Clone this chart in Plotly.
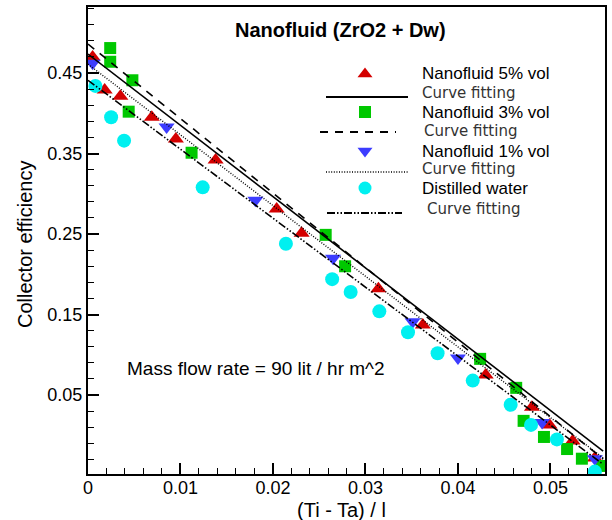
import plotly.graph_objects as go

# ---- data ----
red_x = [0.0005, 0.0018, 0.0035, 0.0069, 0.0095, 0.0138, 0.0204, 0.0231, 0.0314, 0.0362, 0.0430, 0.0480, 0.0499, 0.0524, 0.0548]
red_y = [0.470, 0.429, 0.421, 0.395, 0.368, 0.342, 0.281, 0.251, 0.182, 0.137, 0.075, 0.035, 0.013, -0.007, -0.028]

green_x = [0.0024, 0.0024, 0.0048, 0.0044, 0.0112, 0.0257, 0.0278, 0.0424, 0.0463, 0.0471, 0.0493, 0.0518, 0.0534, 0.0555]
green_y = [0.481, 0.464, 0.441, 0.402, 0.351, 0.249, 0.210, 0.095, 0.059, 0.018, -0.002, -0.017, -0.029, -0.038]

blue_x = [0.0005, 0.0085, 0.0181, 0.0265, 0.0351, 0.0400, 0.0491, 0.0548]
blue_y = [0.462, 0.383, 0.292, 0.220, 0.141, 0.096, 0.016, -0.029]

cyan_x = [0.0008, 0.0025, 0.0039, 0.0124, 0.0214, 0.0264, 0.0284, 0.0315, 0.0346, 0.0378, 0.0416, 0.0457, 0.0479, 0.0507, 0.0548]
cyan_y = [0.434, 0.395, 0.366, 0.308, 0.238, 0.194, 0.178, 0.154, 0.128, 0.102, 0.068, 0.038, 0.013, -0.005, -0.045]

fit_x = [0.0, 0.0557]
fit5_y = [0.4736, -0.0196]
fit3_y = [0.486, -0.0295]
fit1_y = [0.461, -0.028]
fitw_y = [0.441, -0.036]

series_names = ["Nanofluid 5% vol", "Nanofluid 3% vol", "Nanofluid 1% vol", "Distilled water"]
fit_name = "Curve fitting"
title_text = "<b>Nanofluid (ZrO2 + Dw)</b>"
note_text = "Mass flow rate = 90 lit / hr m^2"
x_title = "(Ti - Ta) / l"
y_title = "Collector efficiency"

RED, GREEN, BLUE, CYAN = "#D40000", "#00C800", "#3C3CFF", "#00F0F0"
FONT = "Liberation Sans, Arial, sans-serif"
FONT2 = "DejaVu Sans, sans-serif"

DOT = "1px,1.6px"
DASH = "8px,7px"
DASHDOT = "8px,2px,1.5px,2px,1.5px,2px"

# plot-area geometry in pixels (used for placing the legend / labels)
L, R, T, B = 88, 605, 7, 474
def px2paper(px, py):
    return (px - L) / (R - L), (B - py) / (B - T)

fig = go.Figure()

# markers
mk = dict(mode="markers", showlegend=False, hoverinfo="skip")
fig.add_trace(go.Scatter(x=red_x, y=red_y, marker=dict(symbol="triangle-up", size=14, color=RED, line=dict(width=0)), **mk))
fig.add_trace(go.Scatter(x=green_x, y=green_y, marker=dict(symbol="square", size=12, color=GREEN, line=dict(width=0)), **mk))
fig.add_trace(go.Scatter(x=blue_x, y=blue_y, marker=dict(symbol="triangle-down", size=14, color=BLUE, line=dict(width=0)), **mk))
fig.add_trace(go.Scatter(x=cyan_x, y=cyan_y, marker=dict(symbol="circle", size=14, color=CYAN, line=dict(width=0)), **mk))

# fitted lines
ln = dict(mode="lines", showlegend=False, hoverinfo="skip")
fig.add_trace(go.Scatter(x=fit_x, y=fit5_y, line=dict(color="black", width=1.6), **ln))
fig.add_trace(go.Scatter(x=fit_x, y=fit3_y, line=dict(color="black", width=1.6, dash=DASH), **ln))
fig.add_trace(go.Scatter(x=fit_x, y=fit1_y, line=dict(color="black", width=1.4, dash=DOT), **ln))
fig.add_trace(go.Scatter(x=fit_x, y=fitw_y, line=dict(color="black", width=1.6, dash=DASHDOT), **ln))

# ---- hand-built legend on an overlay axis in pixel units ----
lg = dict(xaxis="x2", yaxis="y2", showlegend=False, hoverinfo="skip")
fig.add_trace(go.Scatter(x=[365], y=[74], mode="markers", marker=dict(symbol="triangle-up", size=13, color=RED), **lg))
fig.add_trace(go.Scatter(x=[365], y=[112], mode="markers", marker=dict(symbol="square", size=12, color=GREEN), **lg))
fig.add_trace(go.Scatter(x=[365], y=[151], mode="markers", marker=dict(symbol="triangle-down", size=13, color=BLUE), **lg))
fig.add_trace(go.Scatter(x=[365], y=[188], mode="markers", marker=dict(symbol="circle", size=13, color=CYAN), **lg))
fig.add_trace(go.Scatter(x=[326, 408], y=[97, 97], mode="lines", line=dict(color="black", width=1.8), **lg))
fig.add_trace(go.Scatter(x=[320, 396], y=[132, 132], mode="lines", line=dict(color="black", width=1.8, dash=DASH), **lg))
fig.add_trace(go.Scatter(x=[326, 408], y=[172, 172], mode="lines", line=dict(color="black", width=1.4, dash=DOT), **lg))
fig.add_trace(go.Scatter(x=[327, 402], y=[213, 213], mode="lines", line=dict(color="black", width=1.8, dash=DASHDOT), **lg))

ann = []
name_rows = [(420, 73), (420, 112), (420, 151), (420, 188)]
fit_rows = [(420, 93), (422, 131), (420, 169), (425, 209)]
for (px, py), name in zip(name_rows, series_names):
    ann.append(dict(x=px, y=py, xref="x2", yref="y2", text=name, showarrow=False,
                    xanchor="left", yanchor="middle", font=dict(family=FONT, size=17, color="black")))
for (px, py) in fit_rows:
    ann.append(dict(x=px, y=py, xref="x2", yref="y2", text=fit_name, showarrow=False,
                    xanchor="left", yanchor="middle", font=dict(family=FONT2, size=15, color="#333333")))
ann.append(dict(x=340, y=30, xref="x2", yref="y2", text=title_text, showarrow=False,
                xanchor="center", yanchor="middle", font=dict(family=FONT, size=20, color="black")))
ann.append(dict(x=125, y=368, xref="x2", yref="y2", text=note_text, showarrow=False,
                xanchor="left", yanchor="middle", font=dict(family=FONT, size=19, color="black")))
# axis titles placed at the reference positions (paper units, outside the plot area)
xt = px2paper(341, 510)
yt = px2paper(25, 245)
ann.append(dict(x=xt[0], y=xt[1], xref="paper", yref="paper", text=x_title, showarrow=False,
                xanchor="center", yanchor="middle", font=dict(family=FONT, size=20, color="black")))
ann.append(dict(x=yt[0], y=yt[1], xref="paper", yref="paper", text=y_title, showarrow=False, textangle=-90,
                xanchor="center", yanchor="middle", font=dict(family=FONT, size=20, color="black")))

fig.update_layout(
    width=612, height=520,
    margin=dict(l=L, r=612 - R, t=T, b=520 - B, autoexpand=False),
    paper_bgcolor="white", plot_bgcolor="white",
    font=dict(family=FONT, size=18, color="black"),
    annotations=ann,
    xaxis=dict(range=[0, 0.0559], tick0=0, dtick=0.01, ticks="inside", ticklen=11, tickwidth=1.5,
               tickcolor="black", showline=True, linewidth=2, linecolor="black", mirror=True,
               showgrid=False, zeroline=False, tickfont=dict(size=18), ticklabelstandoff=-4, automargin=False,
               minor=dict(tick0=0, dtick=0.002, ticks="inside", ticklen=6, tickwidth=1, tickcolor="black", showgrid=False)),
    yaxis=dict(range=[-0.048, 0.532], tick0=0.05, dtick=0.1, ticks="inside", ticklen=11, tickwidth=1.5,
               tickcolor="black", showline=True, linewidth=2, linecolor="black", mirror=True,
               showgrid=False, zeroline=False, tickfont=dict(size=18), ticklabelstandoff=0, automargin=False,
               minor=dict(tick0=0.05, dtick=0.02, ticks="inside", ticklen=6, tickwidth=1, tickcolor="black", showgrid=False)),
    xaxis2=dict(overlaying="x", range=[L, R], visible=False, showgrid=False, zeroline=False, automargin=False),
    yaxis2=dict(overlaying="y", range=[B, T], visible=False, showgrid=False, zeroline=False, anchor="x2", automargin=False),
)

fig.write_html("out.html", config={"displayModeBar": False},
               post_script="document.body.style.margin='0px';")
